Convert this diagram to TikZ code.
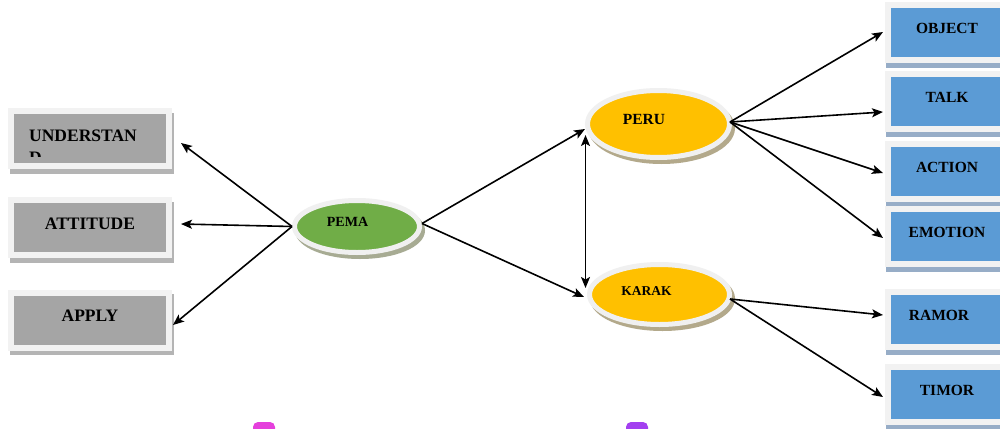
\documentclass[tikz,border=0pt]{standalone}
\usepackage{fontspec}
\setmainfont{Liberation Serif}
\usetikzlibrary{shapes.geometric,arrows.meta,shadows}

\definecolor{boxgray}{HTML}{A5A5A5}
\definecolor{framegray}{HTML}{F2F2F2}
\definecolor{shadowgray}{HTML}{B4B4B4}
\definecolor{boxblue}{HTML}{5B9BD5}
\definecolor{shadowblue}{HTML}{97ADC7}
\definecolor{ovalgreen}{HTML}{70AD47}
\definecolor{ovalyellow}{HTML}{FFC000}
\definecolor{ringwhite}{HTML}{F0F0F0}
\definecolor{greenshadow}{HTML}{A7AB93}
\definecolor{yellowshadow}{HTML}{B3A98B}
\definecolor{tabpink}{HTML}{E540DC}
\definecolor{tabviolet}{HTML}{A340F0}

\tikzset{
  lbox/.style={rectangle, fill=boxgray, draw=framegray, line width=6pt,
    minimum width=158pt, minimum height=55pt, inner sep=0pt,
    general shadow={shadow xshift=2pt, shadow yshift=-4.5pt,
      fill=shadowgray, draw=shadowgray, line width=6pt},
    font=\fontsize{17.5}{20}\selectfont\bfseries, text height=12pt, text depth=8.8pt},
  ltext/.style={inner sep=0pt, anchor=base west, font=\fontsize{17.5}{20}\selectfont\bfseries},
  rbox/.style={rectangle, fill=boxblue, draw=framegray, line width=6pt,
    minimum width=118pt, minimum height=55pt, inner sep=0pt,
    general shadow={shadow xshift=1pt, shadow yshift=-5pt,
      fill=shadowblue, draw=shadowblue, line width=6pt},
    font=\fontsize{15.5}{18}\selectfont\bfseries, text height=10.5pt, text depth=8.5pt},
  oval/.style={ellipse, draw=ringwhite, line width=5pt, inner sep=0pt},
  greenoval/.style={oval, fill=ovalgreen,
    general shadow={shadow xshift=3pt, shadow yshift=-4pt,
      fill=greenshadow, draw=greenshadow, line width=5pt}},
  yellowoval/.style={oval, fill=ovalyellow,
    general shadow={shadow xshift=3pt, shadow yshift=-4pt,
      fill=yellowshadow, draw=yellowshadow, line width=5pt}},
  tip/.style={Stealth[length=11pt,width=9pt,inset=2.5pt]},
  conn/.style={line width=1.6pt, -{Stealth[length=11pt,width=9pt,inset=2.5pt]}},
  dconn/.style={line width=1.6pt, {Stealth[length=11pt,width=9pt,inset=2.5pt]}-{Stealth[length=11pt,width=9pt,inset=2.5pt]}},
  tab/.style={rounded corners=5pt, draw=none}
}

\begin{document}
\begin{tikzpicture}[x=1pt,y=-1pt]
\clip (0,0) rectangle (1000,428);
\fill[white] (0,0) rectangle (1000,428);

% left column
\node[lbox] (und) at (90,138.5) {};
\node[ltext] (undA) at (29,141) {UNDERSTAN};
\begin{scope}
  \clip (14,114) rectangle (166,156);
  \node[ltext] (undB) at (29,163) {D};
\end{scope}
\node[lbox] (att) at (90,227.5) {ATTITUDE};
\node[lbox] (app) at (90,320) {APPLY};

% centre ovals
\node[greenoval, minimum width=125pt, minimum height=52pt,
  label={[xshift=-9.5pt, yshift=4.5pt, font=\fontsize{14}{16}\selectfont\bfseries]center:PEMA}]
  (pema) at (357,226.5) {};
\node[yellowoval, minimum width=142pt, minimum height=67pt,
  label={[xshift=-14.5pt, yshift=5pt, font=\fontsize{15.5}{18}\selectfont\bfseries]center:PERU}]
  (peru) at (658.5,124) {};
\node[yellowoval, minimum width=140pt, minimum height=60pt,
  label={[xshift=-13pt, yshift=3.5pt, font=\fontsize{13.5}{16}\selectfont\bfseries]center:KARAK}]
  (karak) at (659.5,294.5) {};

% right column
\node[rbox] (obj) at (947,32.5) {OBJECT};
\node[rbox] (talk) at (947,101) {TALK};
\node[rbox] (act) at (947,171) {ACTION};
\node[rbox] (emo) at (947,236) {EMOTION};
\node[rbox] (ram) at (947,319.5) {\hspace*{-16pt}RAMOR};
\node[rbox] (tim) at (947,394) {TIMOR};

% connectors
\draw[conn] (pema.west) -- ([shift={(9,4.5)}]und.east);
\draw[conn] (pema.west) -- ([shift={(9,-3.5)}]att.east);
\draw[conn] (pema.west) -- ([shift={(1,5)}]app.east);

\draw[conn] ([shift={(0,-3)}]pema.east) -- ([shift={(0,5)}]peru.west);
\draw[conn] ([shift={(0,-3)}]pema.east) -- ([shift={(-3,2.5)}]karak.west);
\draw[dconn] ([shift={(0.5,11)}]peru.west) -- ([shift={(-1.5,-6.5)}]karak.west);

\draw[conn] ([shift={(-2,-2)}]peru.east) -- ([shift={(-2,-0.5)}]obj.west);
\draw[conn] ([shift={(-2,-2)}]peru.east) -- ([shift={(-2,11)}]talk.west);
\draw[conn] ([shift={(-2,-2)}]peru.east) -- ([shift={(-2,2)}]act.west);
\draw[conn] ([shift={(-2,-2)}]peru.east) -- ([shift={(-2,2)}]emo.west);

\draw[conn] ([shift={(-2,4.5)}]karak.east) -- ([shift={(-2,-4.5)}]ram.west);
\draw[conn] ([shift={(-2,4.5)}]karak.east) -- ([shift={(-2,3)}]tim.west);

% tabs at the lower edge
\fill[tabpink, tab] (253,422) rectangle (275,440);
\fill[tabviolet, tab] (626,422) rectangle (648,440);
\end{tikzpicture}
\end{document}
